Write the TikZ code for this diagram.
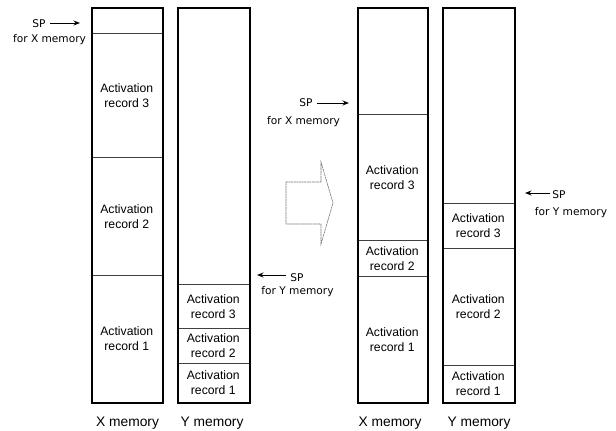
\documentclass[tikz,border=0pt]{standalone}
\usepackage{fontspec}
\setmainfont{Liberation Sans}
\newfontfamily\dvfont{DejaVu Sans}
\usetikzlibrary{arrows.meta}
\begin{document}
\begin{tikzpicture}[x=1pt,y=-1pt,
  cell/.style={draw=black!75, line width=0.6pt, anchor=north west, inner sep=0pt,
    align=center, font=\fontsize{12.2}{15}\selectfont},
  col/.style={draw=black, line width=1.8pt, anchor=north west, inner sep=0pt},
  splab/.style={font=\dvfont\fontsize{10.6}{12}\selectfont, inner sep=0pt},
  memlab/.style={font=\fontsize{13.8}{16}\selectfont, inner sep=0pt},
  sparrow/.style={-{Stealth[length=6.5pt,width=5pt]}, line width=1pt},
  hollow/.style={draw=black!55, line width=0.6pt, dash pattern=on 2pt off 0.6pt}]
\useasboundingbox (0,0) rectangle (616,431);
% Left X memory
\node[cell, minimum width=71pt, minimum height=26pt] (lx0) at (91,7) {};
\node[cell, minimum width=71pt, minimum height=124pt] (lx3) at (91,33) {Activation\\record 3};
\node[cell, minimum width=71pt, minimum height=118pt] (lx2) at (91,157) {Activation\\record 2};
\node[cell, minimum width=71pt, minimum height=127pt] (lx1) at (91,275) {Activation\\record 1};
\node[col, minimum width=71pt, minimum height=395pt] (lxc) at (91,7) {};
% Left Y memory
\node[cell, minimum width=72pt, minimum height=277pt] (ly0) at (177,7) {};
\node[cell, minimum width=72pt, minimum height=44pt] (ly3) at (177,284) {Activation\\record 3};
\node[cell, minimum width=72pt, minimum height=35pt] (ly2) at (177,328) {Activation\\record 2};
\node[cell, minimum width=72pt, minimum height=39pt] (ly1) at (177,363) {Activation\\record 1};
\node[col, minimum width=72pt, minimum height=395pt] (lyc) at (177,7) {};
% Right X memory
\node[cell, minimum width=70pt, minimum height=107pt] (rx0) at (357,7) {};
\node[cell, minimum width=70pt, minimum height=126pt] (rx3) at (357,114) {Activation\\record 3};
\node[cell, minimum width=70pt, minimum height=36pt] (rx2) at (357,240) {Activation\\record 2};
\node[cell, minimum width=70pt, minimum height=126pt] (rx1) at (357,276) {Activation\\record 1};
\node[col, minimum width=70pt, minimum height=395pt] (rxc) at (357,7) {};
% Right Y memory
\node[cell, minimum width=72pt, minimum height=196pt] (ry0) at (442,7) {};
\node[cell, minimum width=72pt, minimum height=45pt] (ry3) at (442,203) {Activation\\record 3};
\node[cell, minimum width=72pt, minimum height=117pt] (ry2) at (442,248) {Activation\\record 2};
\node[cell, minimum width=72pt, minimum height=37pt] (ry1) at (442,365) {Activation\\record 1};
\node[col, minimum width=72pt, minimum height=395pt] (ryc) at (442,7) {};
% bottom labels
\node[memlab] (lxl) at (127.5,423) {X memory};
\node[memlab] (lyl) at (212,423) {Y memory};
\node[memlab] (rxl) at (390,423) {X memory};
\node[memlab] (ryl) at (479,423) {Y memory};
% SP labels
\node[splab] (sp1) at (39,24) {SP};
\node[splab] (sp1b) at (49.5,40) {for X memory};
\coordinate (sp1t) at (80,23);
\coordinate (sp1s) at (50,23);
\draw[sparrow] (sp1s) -- (sp1t);
\node[splab] (sp2) at (297,278) {SP};
\node[splab] (sp2b) at (297.5,292) {for Y memory};
\coordinate (sp2t) at (257,275);
\coordinate (sp2s) at (286,275);
\draw[sparrow] (sp2s) -- (sp2t);
\node[splab] (sp3) at (306,103) {SP};
\node[splab] (sp3b) at (303.5,122) {for X memory};
\coordinate (sp3t) at (349,103);
\coordinate (sp3s) at (317,103);
\draw[sparrow] (sp3s) -- (sp3t);
\node[splab] (sp4) at (559,195) {SP};
\node[splab] (sp4b) at (571,213) {for Y memory};
\coordinate (sp4t) at (525,193);
\coordinate (sp4s) at (550,193);
\draw[sparrow] (sp4s) -- (sp4t);
% hollow arrow
\draw[hollow] (286,182) -- (321,182) -- (321,162) -- (333,203) -- (321,244) -- (321,224) -- (286,224) -- cycle;
\end{tikzpicture}
\end{document}
